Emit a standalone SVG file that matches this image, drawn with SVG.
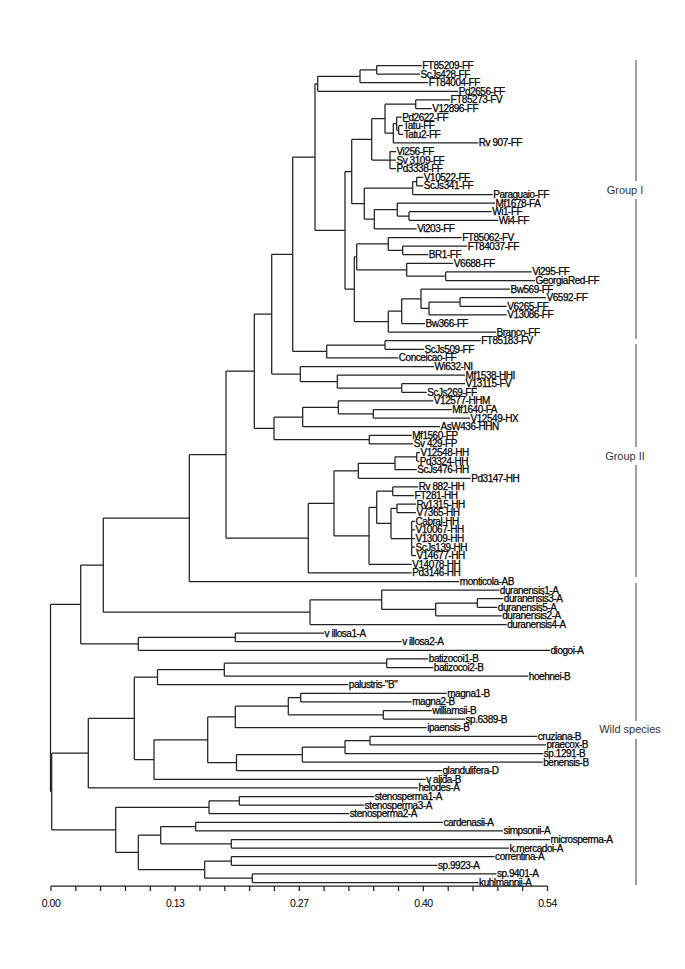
<svg xmlns="http://www.w3.org/2000/svg" width="685" height="969" viewBox="0 0 685 969">
<style>
.br{fill:none;stroke:#222;stroke-width:1.25}
.lf{font-family:"Liberation Sans",Arial,sans-serif;font-size:10px;letter-spacing:-0.45px;fill:#000;stroke:#000;stroke-width:0.25}
.ax{font-family:"Liberation Sans",Arial,sans-serif;font-size:10.5px;letter-spacing:-0.5px;fill:#000;text-anchor:middle}
.gp{font-family:"Liberation Sans",Arial,sans-serif;font-size:11px;fill:#333;text-anchor:middle}
.gl{fill:none;stroke:#444;stroke-width:1}
</style>
<rect width="685" height="969" fill="#fff"/>
<g id="connectors" class="br">
<path d="M376.7 65.5V74.1M376.7 65.5H421.7M376.7 74.1H420"/>
<path d="M360 69.8V82.7M360 69.8H376.7M360 82.7H428.3"/>
<path d="M317.7 76.25V91.3M317.7 76.25H360M317.7 91.3H458.3"/>
<path d="M415.7 99.9V108.5M415.7 99.9H450M415.7 108.5H431.7"/>
<path d="M398.7 125.7V134.3M398.7 125.7H402.7M398.7 134.3H403.3"/>
<path d="M396.7 117.1V130M396.7 117.1H401.7M396.7 130H398.7"/>
<path d="M393.3 123.55V142.9M393.3 123.55H396.7M393.3 142.9H478.3"/>
<path d="M385 104.2V133.23M385 104.2H415.7M385 133.23H393.3"/>
<path d="M390 151.5V168.7M390 151.5H396M390 160.1H396M390 168.7H396"/>
<path d="M371.7 118.71V160.1M371.7 118.71H385M371.7 160.1H390"/>
<path d="M416.7 177.3V185.9M416.7 177.3H423.3M416.7 185.9H423.3"/>
<path d="M412.7 181.6V194.5M412.7 181.6H416.7M412.7 194.5H492.7"/>
<path d="M409 211.7V220.3M409 211.7H491.7M409 220.3H498.3"/>
<path d="M397.3 203.1V216M397.3 203.1H495M397.3 216H409"/>
<path d="M374.3 209.55V228.9M374.3 209.55H397.3M374.3 228.9H416.7"/>
<path d="M364.3 188.05V219.23M364.3 188.05H412.7M364.3 219.23H374.3"/>
<path d="M351.7 139.41V203.64M351.7 139.41H371.7M351.7 203.64H364.3"/>
<path d="M402.7 246.1V254.7M402.7 246.1H467.3M402.7 254.7H428.3"/>
<path d="M388.3 237.5V250.4M388.3 237.5H461.7M388.3 250.4H402.7"/>
<path d="M445.7 271.9V280.5M445.7 271.9H531.7M445.7 280.5H535"/>
<path d="M406.7 263.3V276.2M406.7 263.3H453.3M406.7 276.2H445.7"/>
<path d="M356.7 243.95V269.75M356.7 243.95H388.3M356.7 269.75H406.7"/>
<path d="M460 297.7V306.3M460 297.7H546M460 306.3H506.7"/>
<path d="M429 302V314.9M429 302H460M429 314.9H506.7"/>
<path d="M421 289.1V308.45M421 289.1H510M421 308.45H429"/>
<path d="M401.7 298.78V323.5M401.7 298.78H421M401.7 323.5H425"/>
<path d="M388.3 311.14V332.1M388.3 311.14H401.7M388.3 332.1H496"/>
<path d="M354.3 256.85V321.62M354.3 256.85H356.7M354.3 321.62H388.3"/>
<path d="M345 171.52V289.24M345 171.52H351.7M345 289.24H354.3"/>
<path d="M315 83.78V230.38M315 83.78H317.7M315 230.38H345"/>
<path d="M385 340.7V349.3M385 340.7H480.7M385 349.3H424"/>
<path d="M326.7 345V357.9M326.7 345H385M326.7 357.9H398.3"/>
<path d="M292.7 157.08V351.45M292.7 157.08H315M292.7 351.45H326.7"/>
<path d="M401.7 383.7V392.3M401.7 383.7H465M401.7 392.3H426.7"/>
<path d="M337.3 375.1V388M337.3 375.1H465M337.3 388H401.7"/>
<path d="M300.3 366.5V381.55M300.3 366.5H434M300.3 381.55H337.3"/>
<path d="M271.7 254.27V374.03M271.7 254.27H292.7M271.7 374.03H300.3"/>
<path d="M373.3 409.5V418.1M373.3 409.5H451.7M373.3 418.1H470"/>
<path d="M338.3 400.9V413.8M338.3 400.9H433.3M338.3 413.8H373.3"/>
<path d="M302.7 407.35V426.7M302.7 407.35H338.3M302.7 426.7H440"/>
<path d="M369.3 435.3V443.9M369.3 435.3H411.7M369.3 443.9H413.3"/>
<path d="M274 417.03V439.6M274 417.03H302.7M274 439.6H369.3"/>
<path d="M254.3 314.15V428.31M254.3 314.15H271.7M254.3 428.31H274"/>
<path d="M416.7 452.5V461.1M416.7 452.5H420M416.7 461.1H419.3"/>
<path d="M395 456.8V469.7M395 456.8H416.7M395 469.7H416.7"/>
<path d="M358.3 463.25V478.3M358.3 463.25H395M358.3 478.3H470.7"/>
<path d="M392.7 486.9V495.5M392.7 486.9H418.3M392.7 495.5H414"/>
<path d="M397 504.1V512.7M397 504.1H416M397 512.7H416"/>
<path d="M411.7 521.3V555.7M411.7 521.3H415M411.7 529.9H415M411.7 538.5H415M411.7 547.1H415M411.7 555.7H416"/>
<path d="M391 508.4V538.5M391 508.4H397M391 538.5H411.7"/>
<path d="M376.7 491.2V523.45M376.7 491.2H392.7M376.7 523.45H391"/>
<path d="M369 507.33V564.3M369 507.33H376.7M369 564.3H411.7"/>
<path d="M334 470.78V535.81M334 470.78H358.3M334 535.81H369"/>
<path d="M308.3 503.3V572.9M308.3 503.3H334M308.3 572.9H411.7"/>
<path d="M226 371.23V538.1M226 371.23H254.3M226 538.1H308.3"/>
<path d="M189.3 454.67V581.5M189.3 454.67H226M189.3 581.5H459.3"/>
<path d="M477.3 598.7V607.3M477.3 598.7H503.3M477.3 607.3H497.3"/>
<path d="M435.7 603V615.9M435.7 603H477.3M435.7 615.9H501.7"/>
<path d="M381.7 590.1V609.45M381.7 590.1H499.3M381.7 609.45H435.7"/>
<path d="M310 599.78V624.5M310 599.78H381.7M310 624.5H506.7"/>
<path d="M103.3 518.08V612.14M103.3 518.08H189.3M103.3 612.14H310"/>
<path d="M235.3 633.1V641.7M235.3 633.1H324M235.3 641.7H401.7"/>
<path d="M138.3 637.4V650.3M138.3 637.4H235.3M138.3 650.3H550"/>
<path d="M80.7 565.11V643.85M80.7 565.11H103.3M80.7 643.85H138.3"/>
<path d="M386.7 658.9V667.5M386.7 658.9H428.3M386.7 667.5H433.3"/>
<path d="M224.3 663.2V676.1M224.3 663.2H386.7M224.3 676.1H528.3"/>
<path d="M157.5 669.65V684.7M157.5 669.65H224.3M157.5 684.7H348.3"/>
<path d="M300.7 693.3V701.9M300.7 693.3H446.7M300.7 701.9H411.7"/>
<path d="M383.3 710.5V719.1M383.3 710.5H431.7M383.3 719.1H465"/>
<path d="M288.3 697.6V714.8M288.3 697.6H300.7M288.3 714.8H383.3"/>
<path d="M235.3 706.2V727.7M235.3 706.2H288.3M235.3 727.7H426.7"/>
<path d="M370 736.3V744.9M370 736.3H537.3M370 744.9H546"/>
<path d="M345 740.6V753.5M345 740.6H370M345 753.5H543.3"/>
<path d="M302.3 747.05V762.1M302.3 747.05H345M302.3 762.1H542.7"/>
<path d="M236.5 754.58V770.7M236.5 754.58H302.3M236.5 770.7H442"/>
<path d="M207.7 716.95V762.64M207.7 716.95H235.3M207.7 762.64H236.5"/>
<path d="M154 739.8V779.3M154 739.8H207.7M154 779.3H425.7"/>
<path d="M134.3 677.18V759.55M134.3 677.18H157.5M134.3 759.55H154"/>
<path d="M88.3 718.37V787.9M88.3 718.37H134.3M88.3 787.9H417.9"/>
<path d="M239.3 796.5V805.1M239.3 796.5H374.3M239.3 805.1H364.3"/>
<path d="M209 800.8V813.7M209 800.8H239.3M209 813.7H349.3"/>
<path d="M195.7 822.3V830.9M195.7 822.3H442.9M195.7 830.9H502.9"/>
<path d="M231.3 839.5V848.1M231.3 839.5H550M231.3 848.1H508.9"/>
<path d="M160.7 826.6V843.8M160.7 826.6H195.7M160.7 843.8H231.3"/>
<path d="M231.3 856.7V865.3M231.3 856.7H494.6M231.3 865.3H437.5"/>
<path d="M252.3 873.9V882.5M252.3 873.9H496.4M252.3 882.5H478.6"/>
<path d="M204.7 861V878.2M204.7 861H231.3M204.7 878.2H252.3"/>
<path d="M138.3 835.2V869.6M138.3 835.2H160.7M138.3 869.6H204.7"/>
<path d="M115.7 807.25V852.4M115.7 807.25H209M115.7 852.4H138.3"/>
<path d="M51.7 753.13V829.83M51.7 753.13H88.3M51.7 829.83H115.7"/>
<path d="M50.5 604.48V791.48M50.5 604.48H80.7M50.5 791.48H51.7"/>
</g>
<g id="leaves" class="lf" transform="translate(0.5,3.6)">
<g id="l0"><text x="421.7" y="65.5">FT85209-FF</text></g>
<g id="l1"><text x="420" y="74.1">ScJs428-FF</text></g>
<g id="l2"><text x="428.3" y="82.7">FT84004-FF</text></g>
<g id="l3"><text x="458.3" y="91.3">Pd2656-FF</text></g>
<g id="l4"><text x="450" y="99.9">FT85273-FV</text></g>
<g id="l5"><text x="431.7" y="108.5">V12896-FF</text></g>
<g id="l6"><text x="401.7" y="117.1">Pd2622-FF</text></g>
<g id="l7"><text x="402.7" y="125.7">Tatu-FF</text></g>
<g id="l8"><text x="403.3" y="134.3">Tatu2-FF</text></g>
<g id="l9"><text x="478.3" y="142.9">Rv 907-FF</text></g>
<g id="l10"><text x="396" y="151.5">Vi256-FF</text></g>
<g id="l11"><text x="396" y="160.1">Sv 3109-FF</text></g>
<g id="l12"><text x="396" y="168.7">Pd3338-FF</text></g>
<g id="l13"><text x="423.3" y="177.3">V10522-FF</text></g>
<g id="l14"><text x="423.3" y="185.9">ScJs341-FF</text></g>
<g id="l15"><text x="492.7" y="194.5">Paraguaio-FF</text></g>
<g id="l16"><text x="495" y="203.1">Mf1678-FA</text></g>
<g id="l17"><text x="491.7" y="211.7">Wi1-FF</text></g>
<g id="l18"><text x="498.3" y="220.3">Wi4-FF</text></g>
<g id="l19"><text x="416.7" y="228.9">Vi203-FF</text></g>
<g id="l20"><text x="461.7" y="237.5">FT85062-FV</text></g>
<g id="l21"><text x="467.3" y="246.1">FT84037-FF</text></g>
<g id="l22"><text x="428.3" y="254.7">BR1-FF</text></g>
<g id="l23"><text x="453.3" y="263.3">V6688-FF</text></g>
<g id="l24"><text x="531.7" y="271.9">Vi295-FF</text></g>
<g id="l25"><text x="535" y="280.5">GeorgiaRed-FF</text></g>
<g id="l26"><text x="510" y="289.1">Bw569-FF</text></g>
<g id="l27"><text x="546" y="297.7">V6592-FF</text></g>
<g id="l28"><text x="506.7" y="306.3">V6265-FF</text></g>
<g id="l29"><text x="506.7" y="314.9">V13086-FF</text></g>
<g id="l30"><text x="425" y="323.5">Bw366-FF</text></g>
<g id="l31"><text x="496" y="332.1">Branco-FF</text></g>
<g id="l32"><text x="480.7" y="340.7">FT85183-FV</text></g>
<g id="l33"><text x="424" y="349.3">ScJs509-FF</text></g>
<g id="l34"><text x="398.3" y="357.9">Conceicao-FF</text></g>
<g id="l35"><text x="434" y="366.5">Wi632-NI</text></g>
<g id="l36"><text x="465" y="375.1">Mf1538-HHI</text></g>
<g id="l37"><text x="465" y="383.7">V13115-FV</text></g>
<g id="l38"><text x="426.7" y="392.3">ScJs269-FF</text></g>
<g id="l39"><text x="433.3" y="400.9">V12577-HHM</text></g>
<g id="l40"><text x="451.7" y="409.5">Mf1640-FA</text></g>
<g id="l41"><text x="470" y="418.1">V12549-HX</text></g>
<g id="l42"><text x="440" y="426.7">AsW436-HHN</text></g>
<g id="l43"><text x="411.7" y="435.3">Mf1560-FP</text></g>
<g id="l44"><text x="413.3" y="443.9">Sv 429-FP</text></g>
<g id="l45"><text x="420" y="452.5">V12548-HH</text></g>
<g id="l46"><text x="419.3" y="461.1">Pd3324-HH</text></g>
<g id="l47"><text x="416.7" y="469.7">ScJs476-HH</text></g>
<g id="l48"><text x="470.7" y="478.3">Pd3147-HH</text></g>
<g id="l49"><text x="418.3" y="486.9">Rv 882-HH</text></g>
<g id="l50"><text x="414" y="495.5">FT281-HH</text></g>
<g id="l51"><text x="416" y="504.1">Rv1315-HH</text></g>
<g id="l52"><text x="416" y="512.7">V7365-HH</text></g>
<g id="l53"><text x="415" y="521.3">Cabral-HH</text></g>
<g id="l54"><text x="415" y="529.9">V10067-HH</text></g>
<g id="l55"><text x="415" y="538.5">V13009-HH</text></g>
<g id="l56"><text x="415" y="547.1">ScJs139-HH</text></g>
<g id="l57"><text x="416" y="555.7">V14677-HH</text></g>
<g id="l58"><text x="411.7" y="564.3">V14078-HH</text></g>
<g id="l59"><text x="411.7" y="572.9">Pd3146-HH</text></g>
<g id="l60"><text x="459.3" y="581.5">monticola-AB</text></g>
<g id="l61"><text x="499.3" y="590.1">duranensis1-A</text></g>
<g id="l62"><text x="503.3" y="598.7">duranensis3-A</text></g>
<g id="l63"><text x="497.3" y="607.3">duranensis5-A</text></g>
<g id="l64"><text x="501.7" y="615.9">duranensis2-A</text></g>
<g id="l65"><text x="506.7" y="624.5">duranensis4-A</text></g>
<g id="l66"><text x="324" y="633.1">v illosa1-A</text></g>
<g id="l67"><text x="401.7" y="641.7">v illosa2-A</text></g>
<g id="l68"><text x="550" y="650.3">diogoi-A</text></g>
<g id="l69"><text x="428.3" y="658.9">batizocoi1-B</text></g>
<g id="l70"><text x="433.3" y="667.5">batizocoi2-B</text></g>
<g id="l71"><text x="528.3" y="676.1">hoehnei-B</text></g>
<g id="l72"><text x="348.3" y="684.7">palustris-"B"</text></g>
<g id="l73"><text x="446.7" y="693.3">magna1-B</text></g>
<g id="l74"><text x="411.7" y="701.9">magna2-B</text></g>
<g id="l75"><text x="431.7" y="710.5">williamsii-B</text></g>
<g id="l76"><text x="465" y="719.1">sp.6389-B</text></g>
<g id="l77"><text x="426.7" y="727.7">ipaensis-B</text></g>
<g id="l78"><text x="537.3" y="736.3">cruziana-B</text></g>
<g id="l79"><text x="546" y="744.9">praecox-B</text></g>
<g id="l80"><text x="543.3" y="753.5">sp.1291-B</text></g>
<g id="l81"><text x="542.7" y="762.1">benensis-B</text></g>
<g id="l82"><text x="442" y="770.7">glandulifera-D</text></g>
<g id="l83"><text x="425.7" y="779.3">v alida-B</text></g>
<g id="l84"><text x="417.9" y="787.9">helodes-A</text></g>
<g id="l85"><text x="374.3" y="796.5">stenosperma1-A</text></g>
<g id="l86"><text x="364.3" y="805.1">stenosperma3-A</text></g>
<g id="l87"><text x="349.3" y="813.7">stenosperma2-A</text></g>
<g id="l88"><text x="442.9" y="822.3">cardenasii-A</text></g>
<g id="l89"><text x="502.9" y="830.9">simpsonii-A</text></g>
<g id="l90"><text x="550" y="839.5">microsperma-A</text></g>
<g id="l91"><text x="508.9" y="848.1">k.mercadoi-A</text></g>
<g id="l92"><text x="494.6" y="856.7">correntina-A</text></g>
<g id="l93"><text x="437.5" y="865.3">sp.9923-A</text></g>
<g id="l94"><text x="496.4" y="873.9">sp.9401-A</text></g>
<g id="l95"><text x="478.6" y="882.5">kuhlmannii-A</text></g>
</g>
<g id="axis">
<path class="br" d="M51 886H547.5M51 886v5M75.83 886v5M100.65 886v5M125.48 886v5M150.3 886v5M175.13 886v5M199.95 886v5M224.78 886v5M249.6 886v5M274.43 886v5M299.25 886v5M324.08 886v5M348.9 886v5M373.73 886v5M398.55 886v5M423.38 886v5M448.2 886v5M473.03 886v5M497.85 886v5M522.68 886v5M547.5 886v5"/>
<text class="ax" x="51" y="907">0.00</text>
<text class="ax" x="175.13" y="907">0.13</text>
<text class="ax" x="299.25" y="907">0.27</text>
<text class="ax" x="423.38" y="907">0.40</text>
<text class="ax" x="547.5" y="907">0.54</text>
</g>
<g id="group-I">
<path class="gl" d="M636 60V181M636 199V339"/>
<text class="gp" x="625" y="194">Group I</text>
</g>
<g id="group-II">
<path class="gl" d="M636 344V447M636 465V577"/>
<text class="gp" x="625" y="460">Group II</text>
</g>
<g id="wild-species">
<path class="gl" d="M636 583V721M636 739V885"/>
<text class="gp" x="630" y="733">Wild species</text>
</g>
</svg>
